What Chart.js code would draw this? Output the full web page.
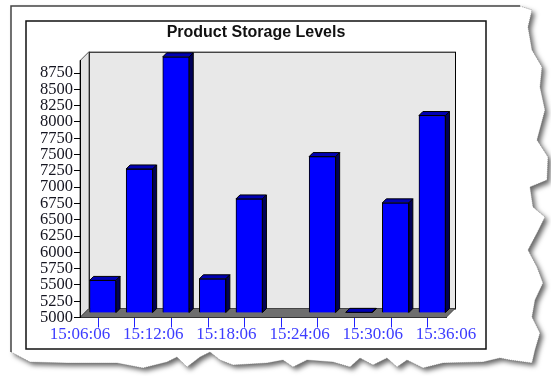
<!DOCTYPE html>
<html>
<head>
<meta charset="utf-8">
<script src="https://cdn.jsdelivr.net/npm/chart.js@4.4.1/dist/chart.umd.min.js"></script>
<style>
  html, body { margin: 0; padding: 0; background: #fff; }
  #wrap { width: 551px; height: 376px; }
</style>
</head>
<body>
<div id="wrap"><canvas id="myChart" width="551" height="376"></canvas></div>
<script>
// axis labels every 6 minutes, one bar per 3 minute slot
var timeLabels = ['15:06:06', '15:12:06', '15:18:06', '15:24:06', '15:30:06', '15:36:06'];
var slotTimes = ['15:06:06', '15:09:06', '15:12:06', '15:15:06', '15:18:06',
                 '15:21:06', '15:24:06', '15:27:06', '15:30:06', '15:33:06'];
var storage = [5500, 7210, 8930, 5525, 6750, null, 7400, 5010, 6690, 8030];
var yTicks = [5000, 5250, 5500, 5750, 6000, 6250, 6500, 6750, 7000, 7250,
              7500, 7750, 8000, 8250, 8500, 8750];
var yMin = 5000, yMax = 8940;

var DEPTH = 9;      // wall / floor depth
var BAR_DEPTH = 4;  // bar extrusion

// torn paper edge, right side then bottom
var rightEdge = [[520, 6], [532, 10], [528, 27], [532, 50], [542, 67], [540, 87], [545, 110],
  [537, 140], [548, 157], [547, 180], [530, 187], [533, 207], [545, 217], [537, 233],
  [528, 250], [537, 267], [543, 283], [535, 300], [532, 317], [540, 333], [535, 350], [532, 363]];
var bottomEdge = [[510, 360], [500, 358], [483, 362], [443, 363], [423, 368], [407, 360],
  [397, 367], [387, 358], [373, 365], [360, 358], [350, 367], [333, 362], [307, 360],
  [293, 367], [283, 360], [267, 363], [233, 365], [220, 360], [210, 352], [200, 357],
  [187, 367], [177, 357], [167, 362], [143, 368], [117, 363], [67, 363], [30, 362], [11, 352]];

var paper = {
  id: 'paper',
  beforeDraw: function (chart) {
    var c = chart.ctx, a = chart.chartArea;
    c.save();
    c.fillStyle = '#fff';
    c.fillRect(0, 0, chart.width, chart.height);

    // sheet with shadow under the torn edge
    c.beginPath();
    c.moveTo(11, 6);
    rightEdge.forEach(function (p) { c.lineTo(p[0], p[1]); });
    bottomEdge.forEach(function (p) { c.lineTo(p[0], p[1]); });
    c.closePath();
    c.shadowColor = 'rgba(0,0,0,0.6)';
    c.shadowBlur = 5;
    c.shadowOffsetX = 3;
    c.shadowOffsetY = 3;
    c.fill();
    c.shadowColor = 'transparent';
    c.strokeStyle = '#777';
    c.lineWidth = 0.6;
    c.setLineDash([1, 1]);
    c.beginPath();
    c.moveTo(rightEdge[0][0], rightEdge[0][1]);
    rightEdge.concat(bottomEdge).forEach(function (p) { c.lineTo(p[0], p[1]); });
    c.stroke();
    c.setLineDash([]);

    // sheet border
    c.strokeStyle = '#444';
    c.lineWidth = 1.5;
    c.beginPath();
    c.moveTo(11, 352);
    c.lineTo(11, 6);
    c.lineTo(520, 6);
    c.stroke();

    // chart frame
    c.strokeStyle = '#111';
    c.lineWidth = 1.5;
    c.strokeRect(26, 21, 460, 328);

    // back wall
    var L = a.left, R = a.right, T = a.top, B = a.bottom, d = DEPTH;
    c.lineWidth = 1;
    c.fillStyle = '#e8e8e8';
    c.fillRect(L + d, T - d, R - L, B - T);
    c.strokeStyle = '#000';
    c.strokeRect(L + d + 0.5, T - d + 0.5, R - L, B - T);

    // left wall
    c.fillStyle = '#e2e2e2';
    c.beginPath();
    c.moveTo(L, T); c.lineTo(L + d, T - d); c.lineTo(L + d, B - d); c.lineTo(L, B);
    c.closePath();
    c.fill();
    c.strokeStyle = '#555';
    c.stroke();

    // floor
    c.fillStyle = '#6e6e6e';
    c.beginPath();
    c.moveTo(L, B); c.lineTo(L + d, B - d); c.lineTo(R + d, B - d); c.lineTo(R, B);
    c.closePath();
    c.fill();
    c.strokeStyle = '#444';
    c.stroke();
    c.restore();
  },
  beforeDatasetsDraw: function (chart) {
    // bars stand in the middle of the floor depth
    chart.ctx.save();
    chart.ctx.translate(DEPTH / 2, -DEPTH / 2);
  },
  afterDatasetsDraw: function (chart) {
    var c = chart.ctx, k = BAR_DEPTH;
    chart.getDatasetMeta(0).data.forEach(function (el, i) {
      if (storage[i] === null) return;
      var p = el.getProps(['x', 'y', 'base', 'width'], true);
      var l = p.x - p.width / 2, r = p.x + p.width / 2, t = p.y, b = p.base;
      c.lineWidth = 1;
      c.strokeStyle = '#000';
      c.fillStyle = '#0000b4';
      c.beginPath();
      c.moveTo(l, t); c.lineTo(l + k, t - k); c.lineTo(r + k, t - k); c.lineTo(r, t);
      c.closePath(); c.fill(); c.stroke();
      c.fillStyle = '#000058';
      c.beginPath();
      c.moveTo(r, t); c.lineTo(r + k, t - k); c.lineTo(r + k, b - k); c.lineTo(r, b);
      c.closePath(); c.fill(); c.stroke();
    });
    c.restore();
  }
};

var ctx = document.getElementById('myChart').getContext('2d');
var myChart = new Chart(ctx, {
  type: 'bar',
  data: {
    datasets: [{
      label: 'Storage',
      data: slotTimes.map(function (t, i) { return { x: i + 0.5, y: storage[i] }; }),
      base: yMin,
      backgroundColor: '#0000ff',
      borderColor: '#000',
      borderWidth: 1,
      barThickness: 26.5
    }]
  },
  plugins: [paper],
  options: {
    responsive: false,
    animation: false,
    layout: { padding: { left: 26, right: 65, top: 21, bottom: 27.5 } },
    plugins: {
      legend: { display: false },
      tooltip: { enabled: false },
      title: {
        display: true,
        text: 'Product Storage Levels',
        color: '#111',
        font: { family: 'Liberation Sans', size: 16, weight: 'bold', lineHeight: 1.2 },
        padding: { top: 2, bottom: 18.5 }
      }
    },
    scales: {
      x: {
        type: 'linear',
        min: 0,
        max: slotTimes.length,
        offset: false,
        grid: { drawOnChartArea: false, tickLength: 10, color: '#2020ff' },
        border: { color: '#333' },
        ticks: {
          stepSize: 1,
          autoSkip: false,
          maxRotation: 0,
          padding: -3,
          color: '#3c3cff',
          font: { family: 'Liberation Serif', size: 17 },
          callback: function (v) { return v % 2 === 0 ? timeLabels[v / 2] : ''; }
        },
        afterFit: function (s) { s.height = 31; }
      },
      y: {
        min: yMin,
        max: yMax,
        grid: { drawOnChartArea: false, tickLength: 6, color: '#000' },
        border: { color: '#000' },
        ticks: {
          autoSkip: false,
          padding: 1,
          color: '#151520',
          font: { family: 'Liberation Serif', size: 16.5, lineHeight: 1 },
          callback: function (v) { return String(v); }
        },
        afterBuildTicks: function (s) {
          s.ticks = yTicks.map(function (v) { return { value: v }; });
        },
        afterFit: function (s) { s.width = 54; }
      },
      y2: {
        position: 'right',
        grid: { display: false },
        border: { display: false },
        ticks: { display: false },
        afterFit: function (s) { s.width = 40; }
      }
    }
  }
});
</script>
</body>
</html>
